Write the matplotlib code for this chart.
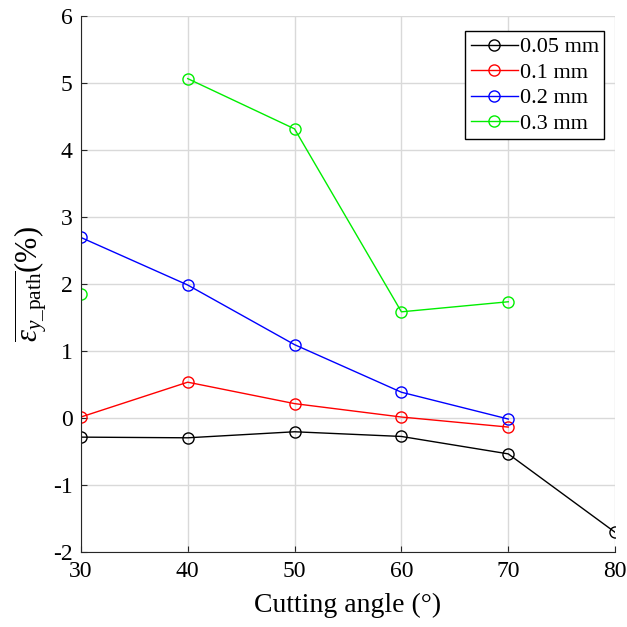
import numpy as np
import matplotlib.pyplot as plt

plt.rcParams['font.family'] = ['Liberation Serif', 'DejaVu Serif']
plt.rcParams['mathtext.fontset'] = 'custom'
plt.rcParams['mathtext.rm'] = 'Liberation Serif'
plt.rcParams['mathtext.it'] = 'Liberation Serif:italic'
plt.rcParams['axes.unicode_minus'] = False

# datos
angulos = [30, 40, 50, 60, 70, 80]
e_005 = [-0.28, -0.29, -0.20, -0.27, -0.53, -1.70]
e_01 = [0.02, 0.54, 0.22, 0.02, -0.13]
e_02 = [2.70, 1.99, 1.10, 0.39, -0.01]
e_03 = [1.86, 5.07, 4.32, 1.59, 1.74]
etiquetas = ['0.05 mm', '0.1 mm', '0.2 mm', '0.3 mm']

fig = plt.figure(figsize=(6.27, 6.27), dpi=100)
ax = fig.add_axes([0.129, 0.119, 0.852, 0.855])

ax.plot(angulos, e_005, '-o', color='k', mfc='none', ms=8, lw=1, label=etiquetas[0])
ax.plot(angulos[:5], e_01, '-o', color='#ff0000', mfc='none', ms=8, lw=1, label=etiquetas[1])
ax.plot(angulos[:5], e_02, '-o', color='#0000ff', mfc='none', ms=8, lw=1, label=etiquetas[2])
# el primer punto de 0.3 mm va suelto (sin linea)
ax.plot(angulos[1:5], e_03[1:], '-o', color='#00ee00', mfc='none', ms=8, lw=1, label=etiquetas[3])
ax.plot(angulos[:1], e_03[:1], 'o', color='#00ee00', mfc='none', ms=8)

ax.set_xlim(30, 80)
ax.set_ylim(-2, 6)
ax.set_xticks(np.arange(30, 81, 10))
ax.set_yticks(np.arange(-2, 7, 1))
ax.grid(color='#d9d9d9', lw=1)
ax.set_axisbelow(True)
for s in ['top', 'right']:
    ax.spines[s].set_visible(False)
for s in ['left', 'bottom']:
    ax.spines[s].set_color('#262626')
ax.tick_params(direction='in', length=4, labelsize=17, pad=6, colors='#262626', labelcolor='k')

ax.set_xlabel('Cutting angle (°)', fontsize=20, labelpad=8)
ax.set_ylabel(r'$\overline{\varepsilon_{y\mathrm{\_path}}}$(%)', fontsize=22, labelpad=2)

leg = ax.legend(loc='upper right', bbox_to_anchor=(0.98, 0.972), fontsize=16,
                fancybox=False, edgecolor='k', framealpha=1, handlelength=2.1,
                handletextpad=0.1, borderpad=0.25, labelspacing=0.22, borderaxespad=0)
leg.get_frame().set_linewidth(1)

plt.savefig('out.png', dpi=100)
